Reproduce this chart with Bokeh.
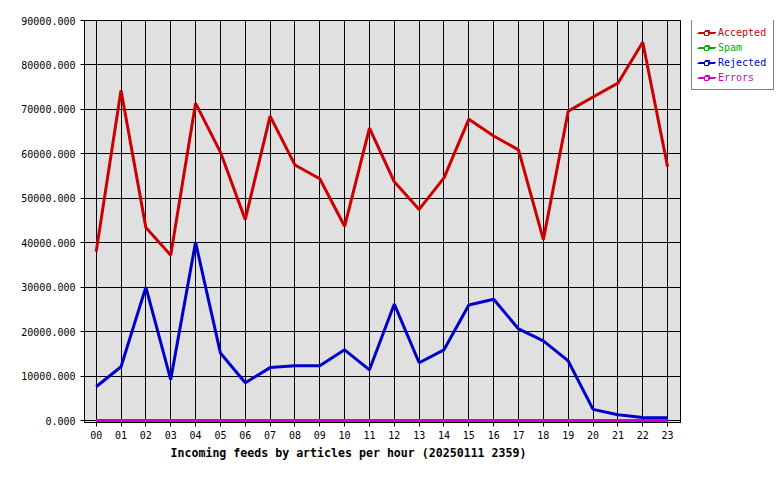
from bokeh.plotting import figure
from bokeh.layouts import row
from bokeh.models import (Range1d, FixedTicker, NumeralTickFormatter, Legend,
                          LegendItem, ColumnDataSource, Title)
from bokeh.embed import file_html
from bokeh.resources import INLINE

hours = [0, 1, 2, 3, 4, 5, 6, 7, 8, 9, 10, 11, 12, 13, 14, 15, 16, 17, 18, 19, 20, 21, 22, 23]
hour_labels = ["00", "01", "02", "03", "04", "05", "06", "07", "08", "09", "10", "11",
               "12", "13", "14", "15", "16", "17", "18", "19", "20", "21", "22", "23"]
accepted = [38000, 74300, 43400, 37200, 71400, 60400, 45200, 68500, 57500, 54400, 43700, 65800,
            53700, 47500, 54600, 67800, 64000, 60900, 40700, 69600, 72800, 75900, 85100, 57100]
spam = [0, 0, 0, 0, 0, 0, 0, 0, 0, 0, 0, 0, 0, 0, 0, 0, 0, 0, 0, 0, 0, 0, 0, 0]
rejected = [7600, 12100, 30000, 9200, 40100, 15200, 8500, 11900, 12300, 12300, 15900, 11400,
            26200, 13000, 15900, 26000, 27300, 20600, 17900, 13400, 2500, 1300, 700, 600]
errors = [0, 0, 0, 0, 0, 0, 0, 0, 0, 0, 0, 0, 0, 0, 0, 0, 0, 0, 0, 0, 0, 0, 0, 0]
series_names = ["Accepted", "Spam", "Rejected", "Errors"]
series_colors = ["#cc0000", "#00aa00", "#0000cc", "#cc00cc"]
y_ticks = [0, 10000, 20000, 30000, 40000, 50000, 60000, 70000, 80000, 90000]
x_title = "Incoming feeds by articles per hour (20250111 2359)"

FONT = "DejaVu Sans Mono"

p = figure(width=681, height=480, output_backend="svg", toolbar_location=None,
           x_range=Range1d(-0.47, 23.56), y_range=Range1d(-450, 90000),
           min_border_left=84, min_border_right=0, min_border_top=20, min_border_bottom=58,
           background_fill_color="#e0e0e0", border_fill_color="white",
           outline_line_color="black", outline_line_width=1)

xt = FixedTicker(ticks=hours)
yt = FixedTicker(ticks=y_ticks)
p.xaxis.ticker = xt
p.yaxis.ticker = yt
p.xgrid.ticker = xt
p.ygrid.ticker = yt
for g in (p.xgrid, p.ygrid):
    g.grid_line_color = "black"
    g.grid_line_alpha = 1.0
    g.grid_line_width = 1

p.xaxis.major_label_overrides = {h: lab for h, lab in zip(hours, hour_labels)}
p.yaxis.formatter = NumeralTickFormatter(format="0.000")
for ax in (p.xaxis, p.yaxis):
    ax.axis_line_color = "black"
    ax.major_tick_line_color = "black"
    ax.major_tick_out = 4
    ax.major_tick_in = 0
    ax.minor_tick_line_color = None
    ax.major_label_text_font = FONT
    ax.major_label_text_font_size = "10px"
    ax.major_label_text_color = "black"
p.xaxis.major_label_standoff = 4
p.yaxis.major_label_standoff = 5

data = [accepted, spam, rejected, errors]
sources = []
for vals, color in zip(data, series_colors):
    src = ColumnDataSource(dict(x=hours, y=vals))
    sources.append(src)
    p.line("x", "y", source=src, line_color=color, line_width=3)

t = Title(text=x_title, align="left", offset=86, text_font=FONT, text_font_size="11.6px",
          text_font_style="bold", text_color="black", standoff=4)
p.add_layout(t, "below")

# legend panel to the right of the plot (its ranges keep the data out of view,
# the renderers only provide the legend glyphs)
lp = figure(width=99, height=480, output_backend="svg", toolbar_location=None,
            x_range=Range1d(-3, -2), y_range=Range1d(-3, -2),
            x_axis_type=None, y_axis_type=None,
            min_border_left=0, min_border_right=0, min_border_top=20, min_border_bottom=58,
            outline_line_color=None,
            background_fill_color="white", border_fill_color="white")
lp.grid.visible = False

items = []
for name, color, src in zip(series_names, series_colors, sources):
    lr = lp.line("x", "y", source=src, line_color=color, line_width=1)
    sr = lp.scatter("x", "y", source=src, marker="square", size=4,
                    line_color=color, fill_color="white", line_width=1)
    items.append((name, color, [lr, sr]))

common = dict(padding=6, spacing=2, glyph_height=10, glyph_width=18, label_height=13,
              label_standoff=3, label_text_font=FONT, label_text_font_size="10px",
              margin=0, orientation="vertical")

main = Legend(items=[LegendItem(label=n, renderers=r) for n, c, r in items],
              location=(10, 332), border_line_color="black", border_line_width=1,
              background_fill_color="white", background_fill_alpha=1.0,
              label_text_alpha=0.0, **common)
lp.add_layout(main, "center")
for i, (n, c, r) in enumerate(items):
    lg = Legend(items=[LegendItem(label=n, renderers=r)], location=(10, 377 - 15 * i),
                border_line_alpha=0.0, background_fill_alpha=0.0,
                label_text_color=c, **common)
    lp.add_layout(lg, "center")

layout = row(p, lp, spacing=0)
open("out.html", "w").write(file_html(layout, INLINE))
